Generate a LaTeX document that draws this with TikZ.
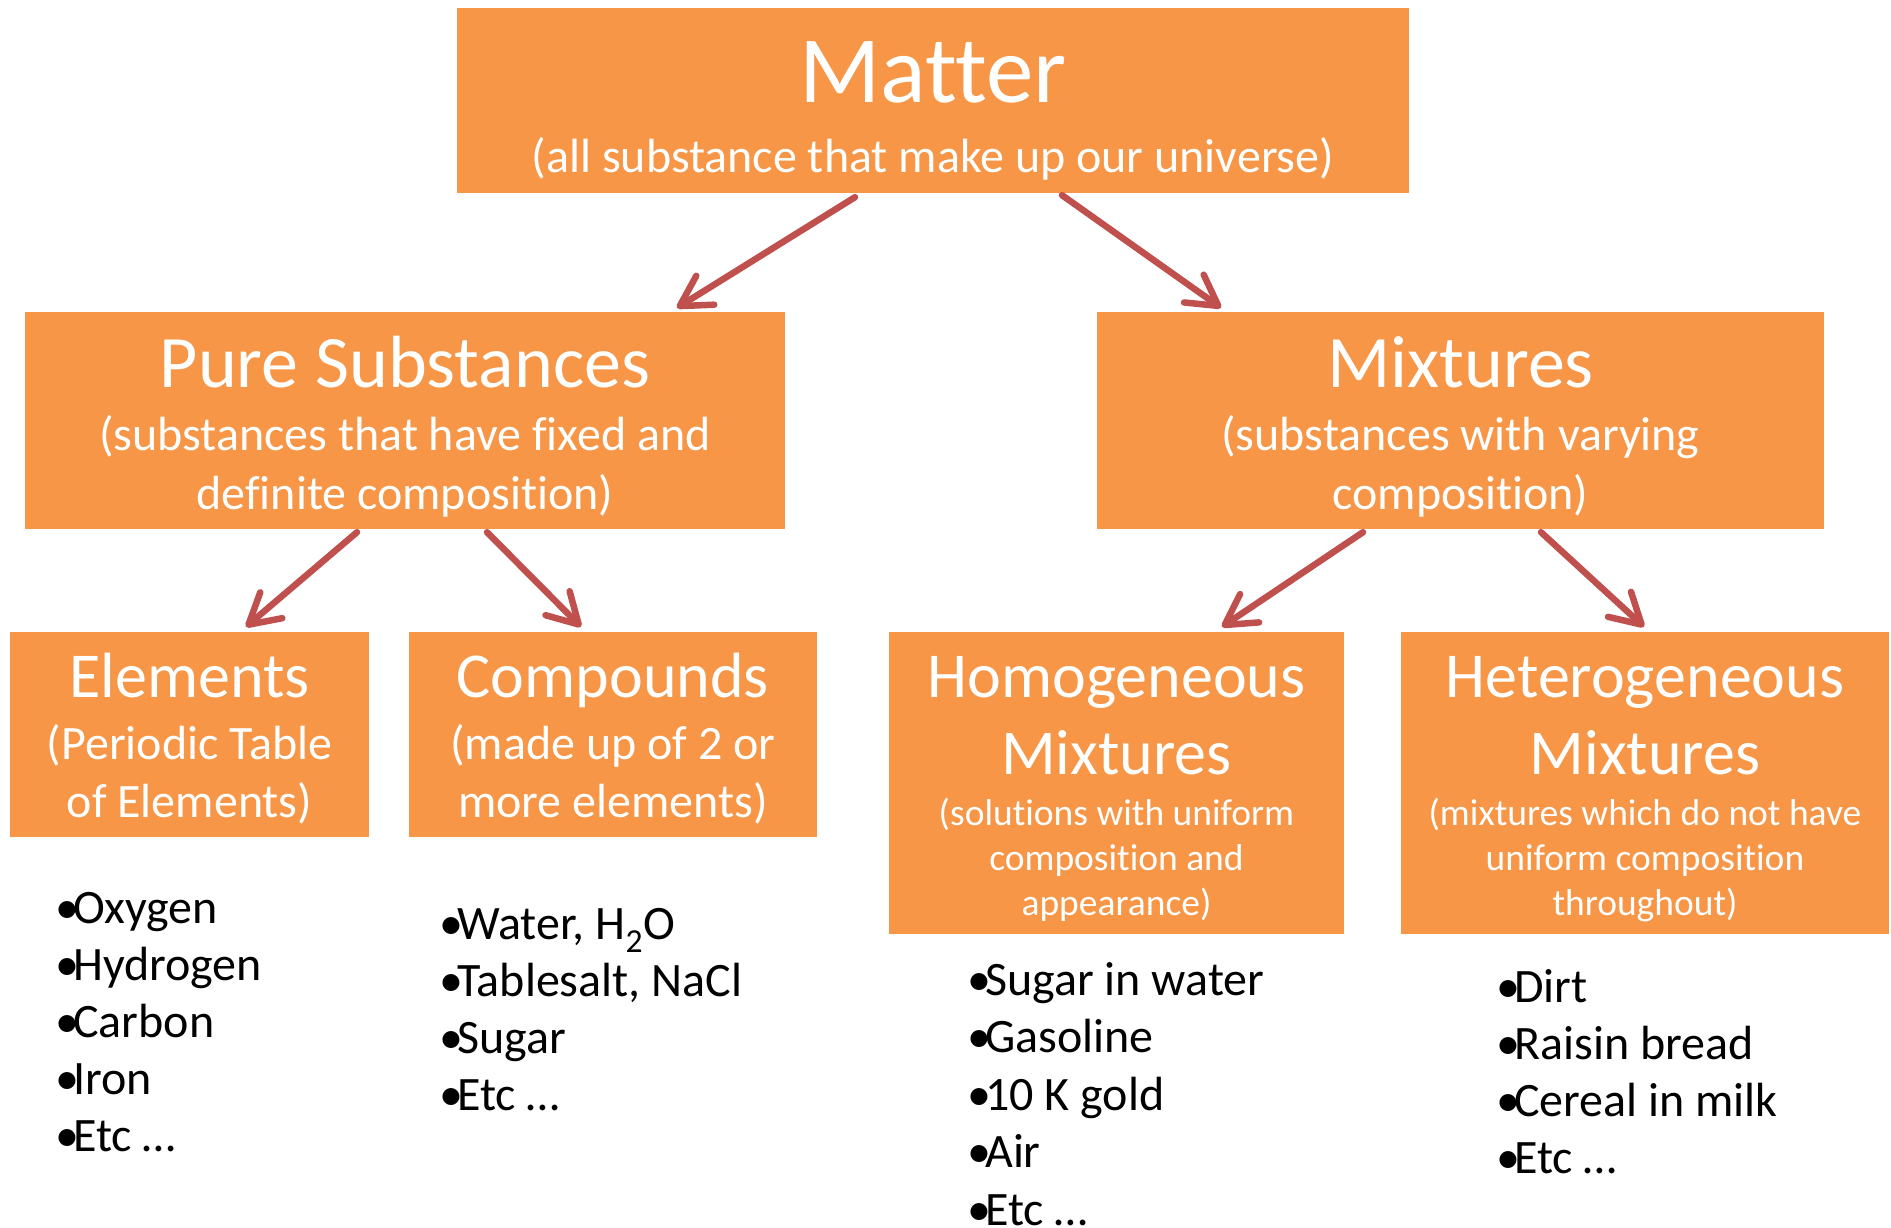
\documentclass[tikz,border=0pt]{standalone}
\usepackage{fontspec}
\setmainfont{Carlito}[RawFeature={-liga;-clig;-calt;-dlig}]
\usetikzlibrary{arrows.meta}
\definecolor{boxorange}{HTML}{F79646}
\definecolor{arrred}{HTML}{C0504D}
\tikzset{
  box/.style={fill=boxorange, draw=none, inner sep=0pt, rectangle},
  titletext/.style={text=white, inner sep=0pt, anchor=base, font=\fontsize{#1}{#1}\selectfont},
  subtext/.style={text=white, inner sep=0pt, anchor=base, font=\fontsize{#1}{#1}\selectfont},
  itemtext/.style={text=black, inner sep=0pt, anchor=base west, font=\fontsize{48}{56}\selectfont},
  arr/.style={draw=arrred, line width=6.5pt, line cap=round,
    -{Straight Barb[length=30pt, width=34pt, round]}},
}
\newcommand{\bul}{\makebox[18pt][l]{•}}
\begin{document}
\begin{tikzpicture}[x=1pt, y=-1pt]
\useasboundingbox (0,0) rectangle (1891,1228);
% boxes
\node[box, minimum width=952pt, minimum height=185pt] (matter) at (933,100.5) {};
\node[box, minimum width=760pt, minimum height=217pt] (pure) at (405,420.5) {};
\node[box, minimum width=727pt, minimum height=217pt] (mix) at (1460.5,420.5) {};
\node[box, minimum width=359pt, minimum height=205pt] (elem) at (189.5,734.5) {};
\node[box, minimum width=408pt, minimum height=205pt] (comp) at (613,734.5) {};
\node[box, minimum width=455pt, minimum height=302pt] (homog) at (1116.5,783) {};
\node[box, minimum width=488pt, minimum height=302pt] (heter) at (1645,783) {};
% box texts
\node[titletext=95] (mattert) at (933,103) {Matter};
\node[subtext=48] (matters) at (933,173) {(all substance that make up our universe)};
\node[titletext=74] (puret) at (405,387) {Pure Substances};
\node[subtext=48] (pures1) at (405,450) {(substances that have fixed and};
\node[subtext=48] (pures2) at (405,509) {definite composition)};
\node[titletext=74] (mixt) at (1460.5,387) {Mixtures};
\node[subtext=48] (mixs1) at (1460.5,450) {(substances with varying};
\node[subtext=48] (mixs2) at (1460.5,509) {composition)};
\node[titletext=64] (elemt) at (189.5,697) {Elements};
\node[subtext=48] (elems1) at (189.5,759) {(Periodic Table};
\node[subtext=48] (elems2) at (189.5,817) {of Elements)};
\node[titletext=64] (compt) at (613,697) {Compounds};
\node[subtext=48] (comps1) at (613,759) {(made up of 2 or};
\node[subtext=48] (comps2) at (613,817) {more elements)};
\node[titletext=64] (homt1) at (1116.5,697) {Homogeneous};
\node[titletext=64] (homt2) at (1116.5,774) {Mixtures};
\node[subtext=37.5] (homs1) at (1116.5,825) {(solutions with uniform};
\node[subtext=37.5] (homs2) at (1116.5,870) {composition and};
\node[subtext=37.5] (homs3) at (1116.5,915) {appearance)};
\node[titletext=64] (hett1) at (1645,697) {Heterogeneous};
\node[titletext=64] (hett2) at (1645,774) {Mixtures};
\node[subtext=37.5] (hets1) at (1645,825) {(mixtures which do not have};
\node[subtext=37.5] (hets2) at (1645,870) {uniform composition};
\node[subtext=37.5] (hets3) at (1645,915) {throughout)};
% arrows
\draw[arr] ([xshift=-78pt,yshift=-4pt]matter.south) -- ([xshift=272pt,yshift=4pt]pure.north);
\draw[arr] ([xshift=129pt,yshift=-2pt]matter.south) -- ([xshift=-239.5pt,yshift=4pt]mix.north);
\draw[arr] ([xshift=-48pt,yshift=-3pt]pure.south) -- ([xshift=56.5pt,yshift=5pt]elem.north);
\draw[arr] ([xshift=82pt,yshift=-3pt]pure.south) -- ([xshift=-32pt,yshift=5pt]comp.north);
\draw[arr] ([xshift=-97.5pt,yshift=-3pt]mix.south) -- ([xshift=105.5pt,yshift=5pt]homog.north);
\draw[arr] ([xshift=80.5pt,yshift=-3pt]mix.south) -- ([xshift=-1pt,yshift=5pt]heter.north);
% bullet lists
\foreach \t [count=\i] in {Oxygen, Hydrogen, Carbon, Iron, Etc …}
  \node[itemtext] (el\i) at (55,923+57.2*\i-57.2) {\bul\t};
\foreach \t [count=\i] in {{Water, H\textsubscript{2}O}, {Tablesalt, NaCl}, Sugar, Etc …}
  \node[itemtext] (co\i) at (439,939+57.2*\i-57.2) {\bul\t};
\foreach \t [count=\i] in {Sugar in water, Gasoline, 10 K gold, Air, Etc …}
  \node[itemtext] (ho\i) at (967,995+57.5*\i-57.5) {\bul\t};
\foreach \t [count=\i] in {Dirt, Raisin bread, Cereal in milk, Etc …}
  \node[itemtext] (he\i) at (1496,1002+57*\i-57) {\bul\t};
\end{tikzpicture}
\end{document}
